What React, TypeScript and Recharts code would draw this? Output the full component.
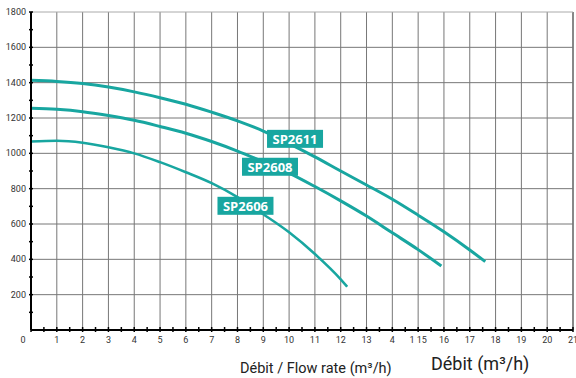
import { LineChart, Line, XAxis, YAxis, ReferenceLine, ReferenceDot } from "recharts";

// flow rate (m3/h) for each curve
const flow2611 = [0, 1, 2, 3, 4, 5, 6, 7, 8, 9, 10, 11, 12, 13, 14, 15, 16, 17, 17.6];
const head2611 = [1413, 1407, 1395, 1375, 1348, 1315, 1278, 1233, 1184, 1126, 1055, 980, 900, 821, 740, 650, 556, 453, 387];

const flow2608 = [0, 1, 2, 3, 4, 5, 6, 7, 8, 9, 10, 11, 12, 13, 14, 15, 15.9];
const head2608 = [1255, 1249, 1236, 1214, 1187, 1152, 1114, 1067, 1013, 952, 888, 812, 731, 645, 550, 455, 362];

const flow2606 = [0, 1, 2, 3, 4, 5, 6, 7, 8, 9, 10, 11, 12, 12.25];
const head2606 = [1067, 1071, 1060, 1034, 1000, 950, 893, 831, 752, 655, 553, 430, 287, 245];

const seriesNames = ["SP2611", "SP2608", "SP2606"];
// where each name tag sits (flow, head)
const tagFlow = [10.23, 9.26, 8.31];
const tagHead = [1082, 924, 703];

const xTicks = Array.from({ length: 43 }, (_, i) => i * 0.5);
const xTickLabels = ["0", "1", "2", "3", "4", "5", "6", "7", "8", "9", "10", "11", "12", "13", "4", "1 15", "16", "17", "18", "19", "20", "21"];
const yTicks = Array.from({ length: 19 }, (_, i) => i * 100);
const gridX = [1, 2, 3, 4, 5, 6, 7, 8, 9, 10, 11, 12, 13, 14, 15, 16, 17, 18, 19, 20];
const gridY = [200, 400, 600, 800, 1000, 1200, 1400, 1600];

const TEAL = "#18a6a0";

const toPoints = (xs: number[], ys: number[]) => xs.map((q, i) => ({ q, h: ys[i] }));
const data2611 = toPoints(flow2611, head2611);
const data2608 = toPoints(flow2608, head2608);
const data2606 = toPoints(flow2606, head2606);

const XTick = (props: any) => {
  const { x, y, payload } = props;
  const v = payload.value;
  const isInt = Number.isInteger(v);
  return (
    <g>
      <line x1={x} x2={x} y1={y - 3} y2={y + 2} stroke="#000" strokeWidth={1.5} />
      {isInt && (
        <text x={v === 0 ? x - 8 : x} y={y + 13} textAnchor="middle" fontSize={9} fill="#333">
          {xTickLabels[v]}
        </text>
      )}
    </g>
  );
};

const YTick = (props: any) => {
  const { x, y, payload } = props;
  const v = payload.value;
  if (v === 0) return null;
  return (
    <g>
      <line x1={x - 2} x2={x + 2} y1={y} y2={y} stroke="#000" strokeWidth={1.5} />
      {v % 200 === 0 && (
        <text x={x - 5} y={y + 3} textAnchor="end" fontSize={9} fill="#333">
          {v}
        </text>
      )}
    </g>
  );
};

const Tag = (name: string) => (props: any) => {
  const { cx, cy } = props;
  const w = 56;
  const h = 18;
  return (
    <g>
      <rect x={cx - w / 2} y={cy - h / 2} width={w} height={h} fill={TEAL} />
      <text x={cx} y={cy + 5} textAnchor="middle" fontSize={13} fontWeight="bold" fill="#fff" fontFamily="'Open Sans', sans-serif">
        {name}
      </text>
    </g>
  );
};

const AxisTitles = () => {
  return (
    <g>
      <text x={240} y={373} fontSize={14.5} fill="#222">
        Débit / Flow rate (m³/h)
      </text>
      <text x={431} y={370} fontSize={18} fill="#222">
        Débit (m³/h)
      </text>
    </g>
  );
};

export default function App() {
  return (
    <div style={{ position: "absolute", left: 0, top: 0, width: 576, height: 378, background: "#fff", fontFamily: "Roboto, sans-serif" }}>
      <LineChart width={576} height={378} margin={{ top: 12, right: 3, bottom: 0, left: 0 }}>
        {gridX.map((v) => (
          <ReferenceLine key={"gx" + v} x={v} stroke="#777" strokeWidth={1} />
        ))}
        <ReferenceLine x={21} stroke="#888" strokeWidth={2} />
        {gridY.map((v) => (
          <ReferenceLine key={"gy" + v} y={v} stroke="#777" strokeWidth={1} />
        ))}
        <ReferenceLine y={1800} stroke="#aaa" strokeWidth={1} />
        <XAxis
          type="number"
          dataKey="q"
          domain={[0, 21]}
          ticks={xTicks}
          interval={0}
          height={48}
          tickSize={0}
          tickMargin={0}
          tickLine={false}
          axisLine={{ stroke: "#000", strokeWidth: 2 }}
          tick={<XTick />}
          label={<AxisTitles />}
          allowDuplicatedCategory={false}
        />
        <YAxis
          type="number"
          domain={[0, 1800]}
          ticks={yTicks}
          interval={0}
          width={31}
          tickSize={0}
          tickMargin={0}
          tickLine={false}
          axisLine={{ stroke: "#000", strokeWidth: 2 }}
          tick={<YTick />}
        />
        <Line data={data2611} dataKey="h" type="monotone" stroke={TEAL} strokeWidth={3} dot={false} isAnimationActive={false} />
        <Line data={data2608} dataKey="h" type="monotone" stroke={TEAL} strokeWidth={3} dot={false} isAnimationActive={false} />
        <Line data={data2606} dataKey="h" type="monotone" stroke={TEAL} strokeWidth={2.5} dot={false} isAnimationActive={false} />
        {seriesNames.map((n, i) => (
          <ReferenceDot key={n} x={tagFlow[i]} y={tagHead[i]} r={0} shape={Tag(n)} />
        ))}
      </LineChart>
    </div>
  );
}
